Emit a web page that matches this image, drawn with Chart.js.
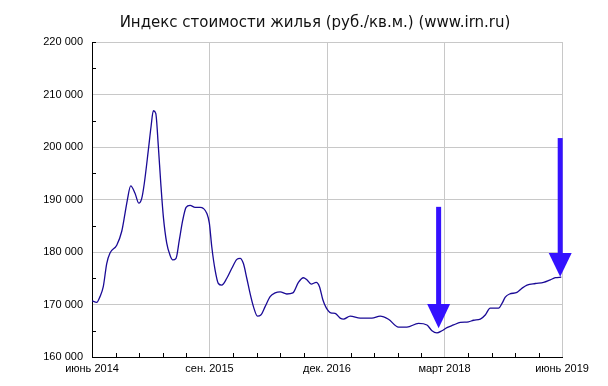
<!DOCTYPE html>
<html>
<head>
<meta charset="utf-8">
<script src="https://cdn.jsdelivr.net/npm/chart.js@4.4.1/dist/chart.umd.min.js"></script>
<style>
  html, body { margin: 0; padding: 0; background: #fff; }
  #wrap { width: 608px; height: 386px; }
</style>
</head>
<body>
<div id="wrap"><canvas id="priceChart"></canvas></div>
<script>
// Months since June 2014 (x) and price, rub per sq.m. (y)
const monthOffsets = [0, 0.6, 1.02, 1.44, 1.88, 2.3, 3.16, 3.79, 4.22, 4.51, 4.94, 5.49, 5.97, 6.35, 6.68,
  7.19, 7.54, 7.83, 8.14, 8.47, 8.78, 9.11, 9.54, 9.96, 10.31, 10.73, 11.15, 11.59, 12.01, 12.52, 13.16,
  13.8, 14.22, 14.65, 14.98, 15.29, 15.71, 16.13, 16.57, 17.21, 17.85, 18.49, 18.91, 19.33, 19.76, 20.18,
  20.61, 21.12, 21.55, 22.1, 22.74, 23.38, 24.02, 24.87, 25.64, 26.35, 26.99, 27.43, 27.98, 28.62, 29.04,
  29.47, 29.89, 30.49, 31.04, 31.68, 32.1, 32.96, 34.24, 35.73, 36.79, 37.85, 39.13, 40.2, 41.68, 42.76,
  43.4, 44.03, 44.67, 45.31, 46.16, 47.01, 48.07, 48.71, 49.57, 50.2, 50.84, 51.9, 52.34, 52.76, 53.31,
  54.25, 54.89, 55.53, 56.59, 57.65, 58.51, 59.15, 59.91];
const prices = [170700, 170400, 171500, 173400, 177800, 179800, 181300, 183900, 187400, 189900, 192600,
  191200, 189300, 190200, 193100, 199400, 203900, 206900, 206400, 200100, 193100, 186700, 181700, 179400,
  178500, 178800, 182300, 186100, 188500, 188900, 188500, 188500, 188300, 187400, 185500, 181000, 176600,
  174000, 173700, 175000, 176900, 178600, 178800, 177800, 175000, 172100, 169600, 167800, 168000, 169600,
  171500, 172200, 172400, 172000, 172200, 174200, 175100, 174700, 173900, 174200, 173400, 170900, 169400,
  168400, 168300, 167400, 167200, 167800, 167400, 167400, 167800, 167200, 165700, 165700, 166400, 166100,
  165000, 164600, 165000, 165600, 166100, 166600, 166700, 167000, 167200, 168000, 169300, 169300, 170200,
  171400, 172000, 172300, 173100, 173700, 174000, 174200, 174700, 175100, 175200];

// x tick labels every 15 months
const xTickLabels = ['июнь 2014', 'сен. 2015', 'дек. 2016', 'март 2018', 'июнь 2019'];

// arrows: [month, top value, head start value, tip value]
const arrows = [
  [44.25, 188600, 170100, 165500],
  [59.77, 201700, 179800, 175300]
];

const chartTitle = 'Индекс стоимости жилья (руб./кв.м.) (www.irn.ru)';

const points = monthOffsets.map((m, i) => ({ x: m, y: prices[i] }));

function fmt(v) {
  return String(v).replace(/\B(?=(\d{3})+(?!\d))/g, ' ');
}

// Title, minor ticks inside the plot and the blue arrows
const extras = {
  id: 'extras',
  afterDraw(chart) {
    const ctx = chart.ctx;
    const xs = chart.scales.x, ys = chart.scales.y;
    const area = chart.chartArea;
    ctx.save();

    ctx.fillStyle = '#111';
    ctx.font = '15px "DejaVu Sans"';
    ctx.textAlign = 'center';
    ctx.textBaseline = 'middle';
    ctx.fillText(chartTitle, 315, 23);

    ctx.strokeStyle = '#000';
    ctx.lineWidth = 1;
    ctx.beginPath();
    for (let m = 3; m < 60; m += 3) {
      if (m % 15 === 0) continue;
      const px = Math.round(xs.getPixelForValue(m)) + 0.5;
      ctx.moveTo(px, area.bottom);
      ctx.lineTo(px, area.bottom - 4);
    }
    for (let v = 165000; v < 220000; v += 10000) {
      const py = Math.round(ys.getPixelForValue(v)) + 0.5;
      ctx.moveTo(area.left, py);
      ctx.lineTo(area.left + 4, py);
    }
    const topY = Math.round(ys.getPixelForValue(220000)) + 0.5;
    ctx.moveTo(area.left, topY);
    ctx.lineTo(area.left + 4, topY);
    ctx.stroke();

    ctx.fillStyle = '#3411ff';
    arrows.forEach(a => {
      const cx = xs.getPixelForValue(a[0]);
      const y0 = ys.getPixelForValue(a[1]);
      const y1 = ys.getPixelForValue(a[2]);
      const y2 = ys.getPixelForValue(a[3]);
      ctx.fillRect(cx - 2.5, y0, 5, y1 - y0 + 1);
      ctx.beginPath();
      ctx.moveTo(cx - 11.5, y1);
      ctx.lineTo(cx + 11.5, y1);
      ctx.lineTo(cx, y2);
      ctx.closePath();
      ctx.fill();
    });
    ctx.restore();
  }
};

new Chart(document.getElementById('priceChart'), {
  type: 'line',
  data: {
    datasets: [{
      data: points,
      borderColor: '#1a0a96',
      borderWidth: 1.3,
      pointRadius: 0,
      cubicInterpolationMode: 'monotone',
      fill: false
    }]
  },
  options: {
    responsive: true,
    maintainAspectRatio: false,
    animation: false,
    layout: { padding: { left: 0, right: 46, top: 42, bottom: 0 } },
    plugins: {
      legend: { display: false },
      tooltip: { enabled: false },
      title: { display: false }
    },
    scales: {
      x: {
        type: 'linear',
        min: 0,
        max: 60,
        afterFit(scale) { scale.height = 29; },
        ticks: {
          stepSize: 15,
          autoSkip: false,
          maxRotation: 0,
          padding: 5,
          color: '#000',
          font: { family: 'Liberation Sans', size: 11 },
          callback: v => xTickLabels[v / 15]
        },
        grid: { color: '#c8c8c8', drawTicks: false },
        border: { color: '#000', width: 1 }
      },
      y: {
        min: 160000,
        max: 220000,
        afterFit(scale) { scale.width = 92; },
        ticks: {
          stepSize: 10000,
          padding: 9,
          color: '#000',
          font: { family: 'Liberation Sans', size: 11 },
          callback: v => fmt(v)
        },
        grid: { color: '#c8c8c8', drawTicks: false },
        border: { color: '#000', width: 1 }
      }
    }
  },
  plugins: [extras]
});
</script>
</body>
</html>
